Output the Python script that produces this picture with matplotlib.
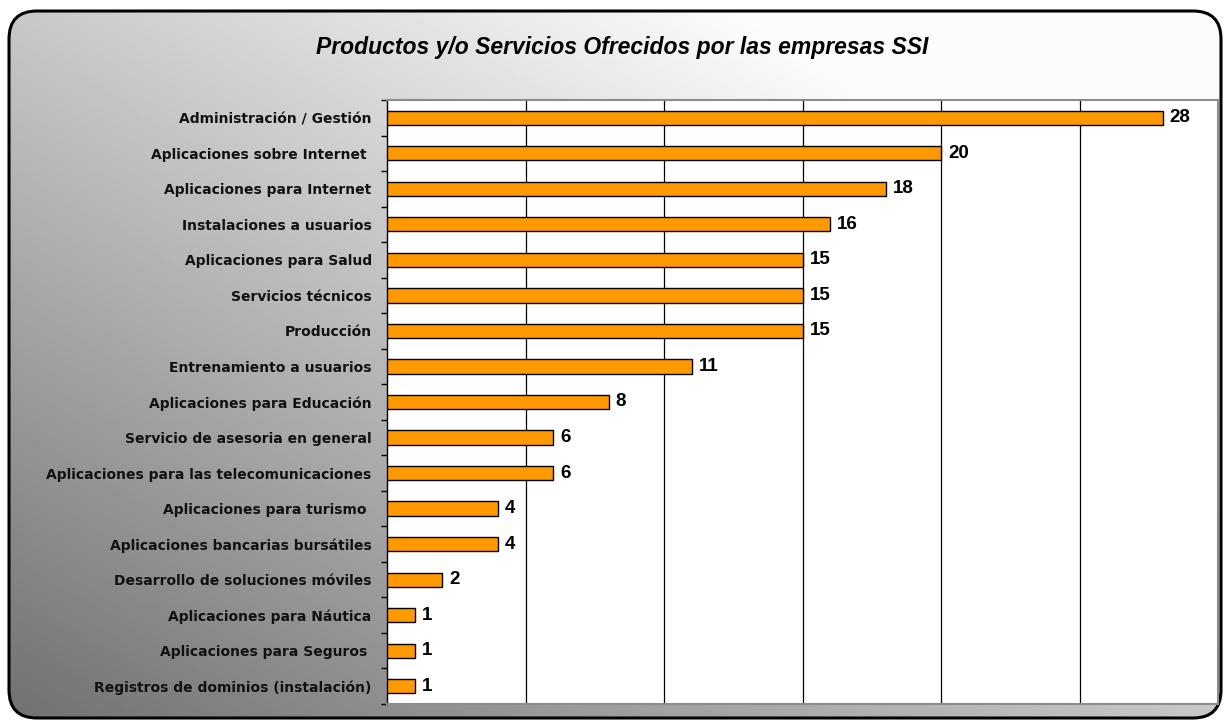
import numpy as np
import matplotlib
matplotlib.use("Agg")
import matplotlib.pyplot as plt
from matplotlib.patches import FancyBboxPatch

# datos
categorias = [
    "Administración / Gestión",
    "Aplicaciones sobre Internet ",
    "Aplicaciones para Internet",
    "Instalaciones a usuarios",
    "Aplicaciones para Salud",
    "Servicios técnicos",
    "Producción",
    "Entrenamiento a usuarios",
    "Aplicaciones para Educación",
    "Servicio de asesoria en general",
    "Aplicaciones para las telecomunicaciones",
    "Aplicaciones para turismo ",
    "Aplicaciones bancarias bursátiles",
    "Desarrollo de soluciones móviles",
    "Aplicaciones para Náutica",
    "Aplicaciones para Seguros ",
    "Registros de dominios (instalación)",
]
valores = [28, 20, 18, 16, 15, 15, 15, 11, 8, 6, 6, 4, 4, 2, 1, 1, 1]
titulo = "Productos y/o Servicios Ofrecidos por las empresas SSI"

W, H = 1227, 722
fig = plt.figure(figsize=(W / 100, H / 100), dpi=100)
fig.patch.set_facecolor("white")

# fondo con degradado y borde redondeado
bg = fig.add_axes([0, 0, 1, 1])
bg.set_xlim(0, W)
bg.set_ylim(0, H)
bg.axis("off")
xx, yy = np.meshgrid(np.linspace(0, 1, 300), np.linspace(0, 1, 200))
grad = np.clip(112 + 88 * xx + 88 * yy, 0, 252) / 255.0
img = bg.imshow(grad, extent=[0, W, 0, H], origin="lower", cmap="gray",
                vmin=0, vmax=1, aspect="auto", zorder=0)
caja = FancyBboxPatch((9, 4), W - 15, H - 15,
                      boxstyle="round,pad=0,rounding_size=28",
                      facecolor="none", edgecolor="black", linewidth=2.2, zorder=2)
bg.add_patch(caja)
img.set_clip_path(caja)

fig.text(0.507, 0.934, titulo, ha="center", va="center", fontsize=16.5,
         fontweight="bold", fontstyle="italic", family="Liberation Sans")

# grafico de barras
ax = fig.add_axes([387 / W, 18 / H, 831 / W, 604 / H])
ax.set_facecolor("white")
y = np.arange(len(categorias))
ax.barh(y, valores, height=0.4, color="#FF9900", edgecolor="black",
        linewidth=1, zorder=3)
ax.set_xlim(0, 30)
ax.set_ylim(len(categorias) - 0.5, -0.5)
ax.set_xticks([5, 10, 15, 20, 25])
ax.xaxis.grid(True, color="black", linewidth=0.9, zorder=0)
ax.tick_params(axis="x", length=0, labelbottom=False)

ax.set_yticks(y)
ax.set_yticklabels(categorias, fontsize=10, fontweight="bold",
                   family="DejaVu Sans", color="#111111")
ax.set_yticks(np.arange(len(categorias) + 1) - 0.5, minor=True)
ax.tick_params(axis="y", which="major", length=0, pad=11)
ax.tick_params(axis="y", which="minor", length=4, width=1, direction="out")

for s in ["top", "right", "bottom"]:
    ax.spines[s].set_color("#8c8c8c")
    ax.spines[s].set_linewidth(1.5)
ax.spines["left"].set_color("black")
ax.spines["left"].set_linewidth(1)

for yi, v in zip(y, valores):
    ax.annotate(str(v), (v, yi), xytext=(5, 0), textcoords="offset points",
                va="center", ha="left", fontsize=13.5, fontweight="bold",
                family="Liberation Sans")

fig.savefig("out.png", dpi=100)
